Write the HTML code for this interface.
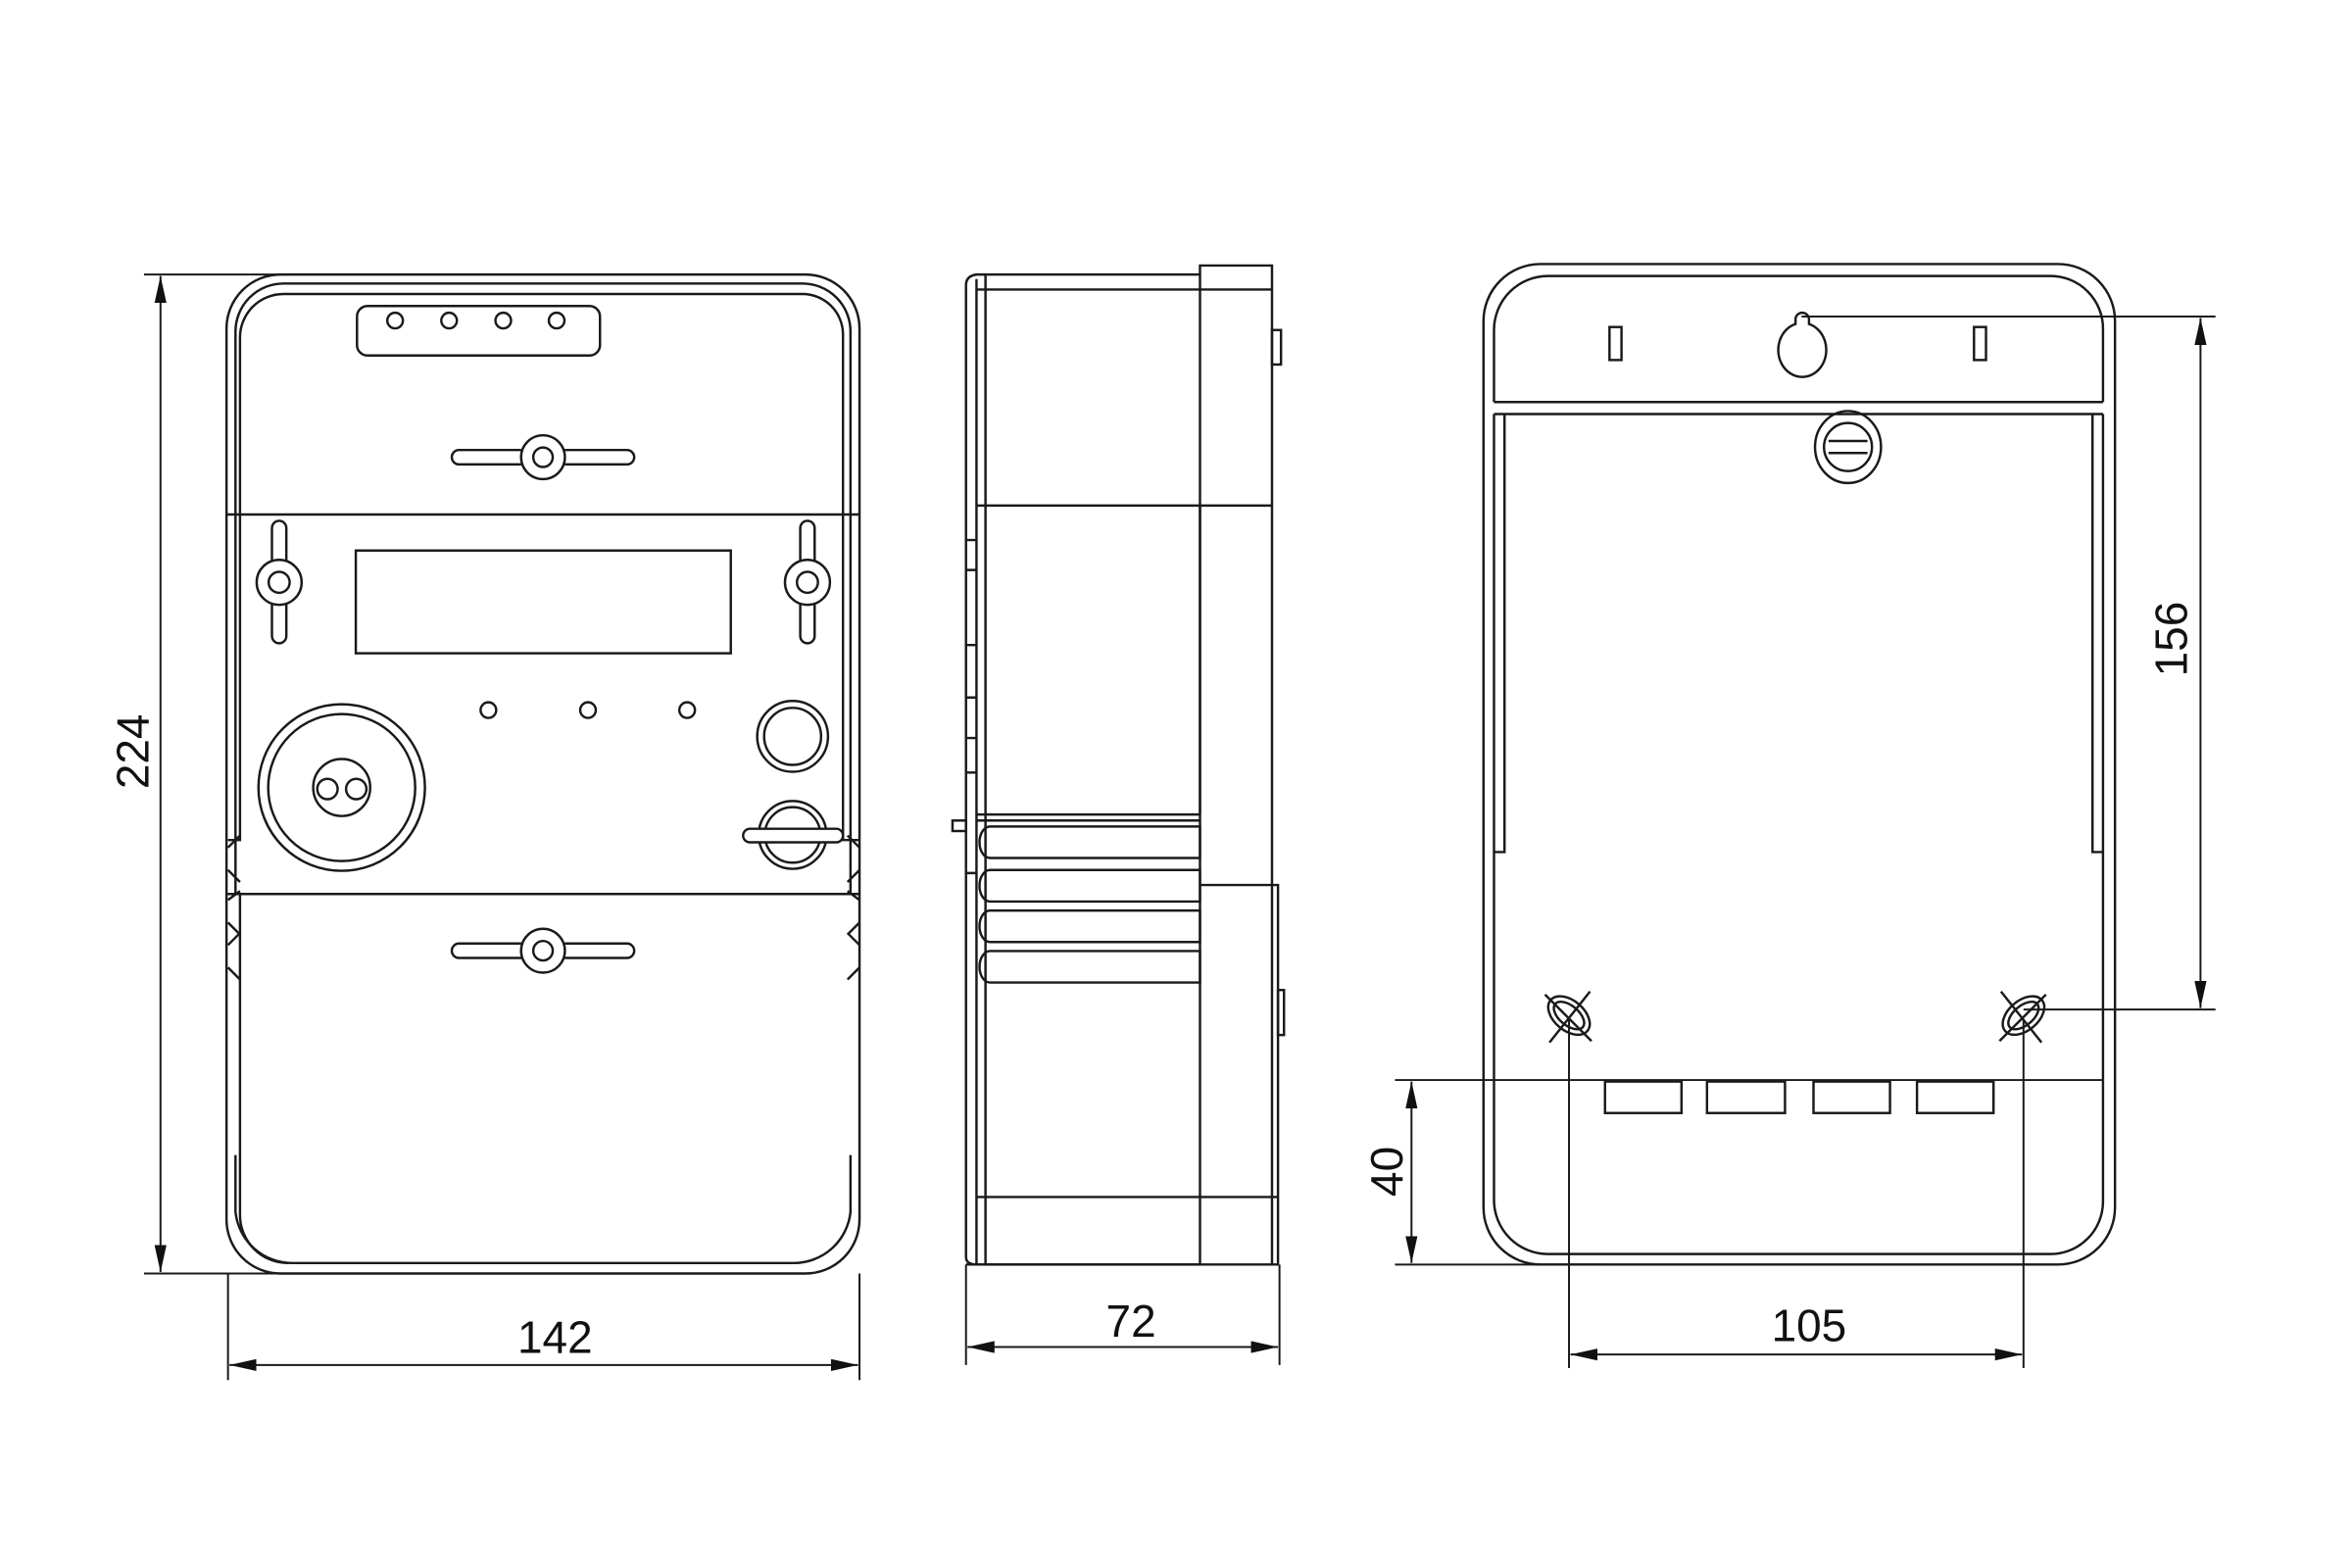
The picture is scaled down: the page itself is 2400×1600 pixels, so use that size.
<!DOCTYPE html>
<html><head><meta charset="utf-8"><style>
html,body{margin:0;padding:0;background:#fff;}
svg{display:block;}
text{font-family:"Liberation Sans",sans-serif;font-size:30px;fill:#111;}
</style></head><body>
<svg width="2400" height="1600" viewBox="0 0 1568 1045.3" xmlns="http://www.w3.org/2000/svg">
<defs>
<marker id="a" viewBox="0 0 18 8" refX="18" refY="4" markerWidth="18" markerHeight="8" markerUnits="userSpaceOnUse" orient="auto-start-reverse"><path d="M0,0 L18,4 L0,8 Z" fill="#111"/></marker>
</defs>
<g fill="none" stroke="#1a1a1a" stroke-width="1.6">
<!-- FRONT VIEW -->
<rect x="151" y="183" width="422" height="666" rx="36"/>
<path d="M157,596 V221 a32,32 0 0 1 32,-32 H535 a32,32 0 0 1 32,32 V596"/>
<path d="M157,770 V808 a38,38 0 0 0 38,34 H529 a38,38 0 0 0 38,-34 V770"/>
<path d="M152,560 H160 V225 a29,29 0 0 1 29,-29 H535 a27,27 0 0 1 27,27 V560 H573"/>
<path d="M160,596 V810 a32,32 0 0 0 32,32"/>
<line x1="151" y1="343" x2="573" y2="343"/>
<line x1="151" y1="596" x2="573" y2="596"/>
<path d="M152,565 l8,-8 M152,580 l8,8 M152,600 l8,-6 M152,615 l8,8 M152,630 l8,-8 M152,645 l8,8"/>
<path d="M573,565 l-8,-8 M573,580 l-8,8 M573,600 l-8,-6 M573,615 l-8,8 M573,630 l-8,-8 M573,645 l-8,8"/>
<rect x="238" y="204" width="162" height="33" rx="7"/>
<circle cx="263.4" cy="213.7" r="5.2"/><circle cx="299.4" cy="213.7" r="5.2"/><circle cx="335.5" cy="213.7" r="5.2"/><circle cx="371.1" cy="213.7" r="5.2"/>
<path d="M347.5,300 H306 a4.8,4.8 0 0 0 0,9.6 H347.5 M376.5,300 H418 a4.8,4.8 0 0 1 0,9.6 H376.5"/>
<circle cx="362" cy="304.8" r="14.6"/><circle cx="362" cy="304.8" r="6.5"/>
<path d="M347.5,629 H306 a4.8,4.8 0 0 0 0,9.6 H347.5 M376.5,629 H418 a4.8,4.8 0 0 1 0,9.6 H376.5"/>
<circle cx="362" cy="633.8" r="14.6"/><circle cx="362" cy="633.8" r="6.5"/>
<rect x="237.2" y="367" width="250" height="68.5"/>
<path d="M181.3,373.5 V352 a4.8,4.8 0 0 1 9.6,0 V373.5 M181.3,403 V424 a4.8,4.8 0 0 0 9.6,0 V403"/>
<circle cx="186.1" cy="388.2" r="15"/><circle cx="186.1" cy="388.2" r="7"/>
<path d="M533.5,373.5 V352 a4.8,4.8 0 0 1 9.6,0 V373.5 M533.5,403 V424 a4.8,4.8 0 0 0 9.6,0 V403"/>
<circle cx="538.3" cy="388.2" r="15"/><circle cx="538.3" cy="388.2" r="7"/>
<circle cx="325.6" cy="473.4" r="5.2"/><circle cx="392" cy="473.4" r="5.2"/><circle cx="458.1" cy="473.4" r="5.2"/>
<circle cx="227.8" cy="525" r="55.5"/><circle cx="227.8" cy="525" r="49"/><circle cx="227.8" cy="525" r="19"/>
<circle cx="218.3" cy="526" r="6.8"/><circle cx="237.5" cy="526" r="6.8"/>
<circle cx="528.4" cy="490.9" r="23.6"/><circle cx="528.4" cy="490.9" r="19"/>
<circle cx="528.4" cy="556.6" r="22.6"/><circle cx="528.4" cy="556.6" r="18.5"/>
<rect x="495.4" y="552.5" width="66.6" height="9" rx="4.5" fill="#fff"/>
<!-- SIDE VIEW -->
<path d="M657,183 H651 Q644,184 644,190 V838 Q644,843 651,843 H657"/>
<line x1="651" y1="186" x2="651" y2="843"/>
<rect x="657" y="183" width="143" height="660"/>
<path d="M800,183 V177 H848 V843"/>
<line x1="651" y1="193" x2="848" y2="193"/>
<line x1="651" y1="337" x2="848" y2="337"/>
<line x1="800" y1="337" x2="800" y2="543"/>
<line x1="651" y1="543" x2="800" y2="543"/>
<line x1="651" y1="547" x2="800" y2="547"/>
<path d="M800,590 H852 V843 H644"/>
<line x1="651" y1="798" x2="852" y2="798"/>
<rect x="848" y="220" width="6" height="23"/>
<rect x="852" y="660" width="4" height="30"/>
<rect x="635" y="547" width="9" height="7"/>
<path d="M644,360 h7 M644,380 h7 M644,430 h7 M644,465 h7 M644,492 h7 M644,515 h7 M644,582 h7"/>
<path d="M660,551 H800 V572 H660 a7,10.5 0 0 1 0,-21 Z"/>
<path d="M660,580 H800 V601 H660 a7,10.5 0 0 1 0,-21 Z"/>
<path d="M660,607 H800 V628 H660 a7,10.5 0 0 1 0,-21 Z"/>
<path d="M660,634 H800 V655 H660 a7,10.5 0 0 1 0,-21 Z"/>
<!-- BACK VIEW -->
<rect x="989" y="176" width="421" height="667" rx="38"/>
<path d="M996,268 V220 a36,36 0 0 1 36,-36 H1367 a35,35 0 0 1 35,35 V268"/>
<path d="M996,276 V800 a36,36 0 0 0 36,36 H1367 a35,35 0 0 0 35,-35 V276"/>
<line x1="996" y1="268" x2="1402" y2="268"/>
<line x1="996" y1="276" x2="1402" y2="276"/>
<path d="M1003,276 V568 H996"/><path d="M1395,276 V568 H1402"/>
<rect x="1073" y="218" width="8" height="22"/>
<rect x="1316" y="218" width="8" height="22"/>
<path d="M1197,213 a4.5,4.5 0 0 1 9,0 V216 a16,18 0 1 1 -9,0 Z"/>
<ellipse cx="1232" cy="298" rx="22" ry="24"/>
<circle cx="1232" cy="298" r="16"/>
<path d="M1219,294 H1245 M1219,302 H1245"/>
<g transform="rotate(40 1046 677)"><ellipse cx="1046" cy="677" rx="16" ry="10"/><ellipse cx="1046" cy="677" rx="12" ry="6.5"/></g>
<path d="M1030,663 l31,31 M1060,661 l-27,34"/>
<g transform="rotate(-40 1349 677)"><ellipse cx="1349" cy="677" rx="16" ry="10"/><ellipse cx="1349" cy="677" rx="12" ry="6.5"/></g>
<path d="M1364,663 l-31,31 M1334,661 l27,34"/>
<rect x="1070" y="721" width="51" height="21"/>
<rect x="1138" y="721" width="52" height="21"/>
<rect x="1209" y="721" width="51" height="21"/>
<rect x="1278" y="721" width="51" height="21"/>
</g>
<g fill="none" stroke="#1a1a1a" stroke-width="1.3">
<line x1="96" y1="183" x2="190" y2="183"/>
<line x1="96" y1="849" x2="200" y2="849"/>
<line x1="107" y1="184" x2="107" y2="848" marker-start="url(#a)" marker-end="url(#a)"/>
<line x1="152" y1="849" x2="152" y2="920"/>
<line x1="573" y1="849" x2="573" y2="920"/>
<line x1="153" y1="910" x2="572" y2="910" marker-start="url(#a)" marker-end="url(#a)"/>
<line x1="644" y1="843" x2="644" y2="910"/>
<line x1="853" y1="843" x2="853" y2="910"/>
<line x1="645" y1="898" x2="852" y2="898" marker-start="url(#a)" marker-end="url(#a)"/>
<line x1="1201" y1="211" x2="1477" y2="211"/>
<line x1="1349" y1="673" x2="1477" y2="673"/>
<line x1="1467" y1="212" x2="1467" y2="672" marker-start="url(#a)" marker-end="url(#a)"/>
<line x1="930" y1="720" x2="1402" y2="720"/>
<line x1="930" y1="843" x2="1070" y2="843"/>
<line x1="941" y1="721" x2="941" y2="842" marker-start="url(#a)" marker-end="url(#a)"/>
<line x1="1046" y1="680" x2="1046" y2="912"/>
<line x1="1349" y1="680" x2="1349" y2="912"/>
<line x1="1047" y1="903" x2="1348" y2="903" marker-start="url(#a)" marker-end="url(#a)"/>
</g>
<text x="370" y="902" text-anchor="middle">142</text>
<text x="754" y="891" text-anchor="middle">72</text>
<text x="1206" y="894" text-anchor="middle">105</text>
<text transform="translate(99,501) rotate(-90)" text-anchor="middle">224</text>
<text transform="translate(1458,426) rotate(-90)" text-anchor="middle">156</text>
<text transform="translate(935,781) rotate(-90)" text-anchor="middle">40</text>
</svg>
</body></html>
